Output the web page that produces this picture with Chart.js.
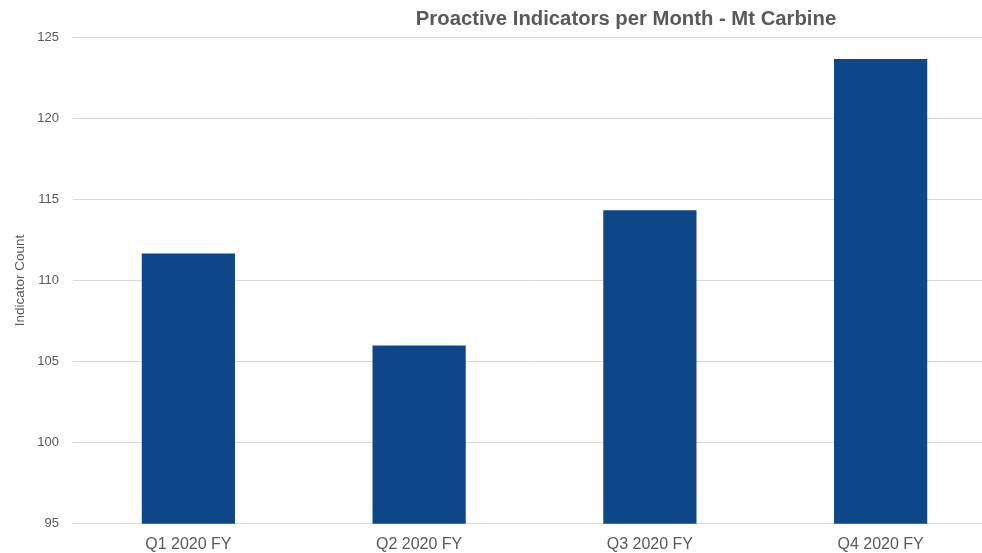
<!DOCTYPE html>
<html>
<head>
<meta charset="utf-8">
<script src="https://cdn.jsdelivr.net/npm/chart.js@4.4.1/dist/chart.umd.min.js"></script>
<style>
  html, body { margin: 0; padding: 0; background: #ffffff; overflow: hidden; }
  #wrap { position: relative; width: 1000px; height: 565px; }
</style>
</head>
<body>
<div id="wrap"><canvas id="chart"></canvas></div>
<script>
// Quarterly averages of proactive indicators per month
const categories = ['Q1 2020 FY', 'Q2 2020 FY', 'Q3 2020 FY', 'Q4 2020 FY'];
const indicatorCounts = [111.67, 106.0, 114.33, 123.67];
const yMin = 95;
const yMax = 125;
const yStep = 5;

const textGray = '#595959';
const fontFamily = 'Liberation Sans, Arial, sans-serif';

// Shift the title so it sits over the right-hand part of the plot
const titleShift = {
  id: 'titleShift',
  afterLayout(chart) {
    const tb = chart.titleBlock;
    if (!tb) return;
    const center = 626;
    const half = (tb.right - tb.left) / 2;
    tb.left = center - half;
    tb.right = center + half;
  }
};

new Chart(document.getElementById('chart'), {
  type: 'bar',
  data: {
    labels: categories,
    datasets: [{
      label: 'Indicator Count',
      data: indicatorCounts,
      backgroundColor: '#0e4787',
      borderWidth: 0,
      categoryPercentage: 1.0,
      barPercentage: 0.404
    }]
  },
  options: {
    responsive: true,
    maintainAspectRatio: false,
    animation: false,
    layout: { padding: { left: 8, right: 4, top: 0, bottom: 0 } },
    plugins: {
      legend: { display: false },
      tooltip: { enabled: false },
      title: {
        display: true,
        text: 'Proactive Indicators per Month - Mt Carbine',
        color: textGray,
        font: { family: fontFamily, size: 20.3, weight: 'bold' },
        padding: { top: 7, bottom: 6 }
      }
    },
    scales: {
      x: {
        grid: { display: false, drawTicks: false },
        border: { display: false },
        ticks: {
          color: textGray,
          font: { family: fontFamily, size: 16 },
          padding: 11
        }
      },
      y: {
        min: yMin,
        max: yMax,
        grid: { color: '#d9d9d9', lineWidth: 1, drawTicks: false },
        border: { display: false },
        afterFit(scale) { scale.width = 65; },
        ticks: {
          stepSize: yStep,
          color: textGray,
          font: { family: fontFamily, size: 13 },
          padding: 14
        },
        title: {
          display: true,
          text: 'Indicator Count',
          color: textGray,
          font: { family: fontFamily, size: 13.5 },
          padding: { top: 4, bottom: 0 }
        }
      }
    }
  },
  plugins: [titleShift]
});
</script>
</body>
</html>
